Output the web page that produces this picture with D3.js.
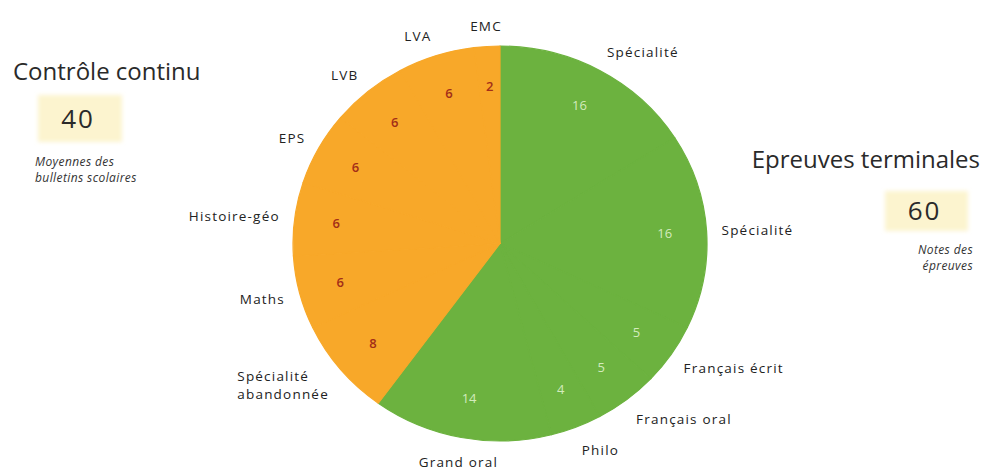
<!DOCTYPE html>
<html>
<head>
<meta charset="utf-8">
<script src="https://cdn.jsdelivr.net/npm/d3@7"></script>
<style>
  body { margin: 0; background: #fff; }
  svg { display: block; font-family: "Open Sans", sans-serif; }
</style>
</head>
<body>
<div id="chart"></div>
<script>
// subjects, clockwise from 12 o'clock
var subjects = ["Spécialité", "Spécialité", "Français écrit", "Français oral", "Philo", "Grand oral",
                "Spécialité abandonnée", "Maths", "Histoire-géo", "EPS", "LVB", "LVA", "EMC"];
var coefficients = [16, 16, 5, 5, 4, 14, 8, 6, 6, 6, 6, 6, 2];
var subjectGroup = [0, 0, 0, 0, 0, 0, 1, 1, 1, 1, 1, 1, 1];

var groupNames = ["Epreuves terminales", "Contrôle continu"];
var groupNotes = [["Notes des", "épreuves"], ["Moyennes des", "bulletins scolaires"]];

var width = 987, height = 471;
var cx = 500, cy = 243.5, radius = 207, ky = 0.954;
var fills = ["#6cb23f", "#f8a829"];
var valueColors = ["#d3ebbd", "#a32e18"];

var data = subjects.map(function(s, i) {
    return { name: s, value: coefficients[i], group: subjectGroup[i] };
});

var svg = d3.select("#chart").append("svg")
            .attr("width", width)
            .attr("height", height);

var pie = d3.pie().sort(null).value(function(d) { return d.value; });
var arcs = pie(data);

var arc = d3.arc().innerRadius(0).outerRadius(radius);
var valueArc = d3.arc().innerRadius(165).outerRadius(165);

var pieG = svg.append("g")
              .attr("transform", "translate(" + cx + "," + cy + ") scale(1," + ky + ")");

pieG.selectAll("path")
    .data(arcs)
    .enter().append("path")
    .attr("d", arc)
    .attr("fill", function(d) { return fills[d.data.group]; })
    .attr("stroke", function(d) { return fills[d.data.group]; })
    .attr("stroke-width", 1.2)
    .attr("stroke-linejoin", "round");

// values inside the slices
svg.selectAll(".val")
   .data(arcs)
   .enter().append("text")
   .attr("class", "val")
   .attr("x", function(d) { return cx + valueArc.centroid(d)[0]; })
   .attr("y", function(d) { return cy + valueArc.centroid(d)[1] * ky; })
   .attr("dy", "0.35em")
   .attr("text-anchor", "middle")
   .attr("font-size", 13)
   .attr("font-weight", function(d) { return d.data.group ? 600 : 400; })
   .attr("fill", function(d) { return valueColors[d.data.group]; })
   .text(function(d) { return d.data.value; });

// subject names around the pie
var labelR = 222;
arcs.forEach(function(d) {
    var a = (d.startAngle + d.endAngle) / 2;
    var s = Math.sin(a), c = Math.cos(a);
    var x = cx + s * labelR;
    var y = cy - c * labelR * ky - c * (c < 0 ? 11 : 6);
    var anchor = s > 0.25 ? "start" : (s < -0.25 ? "end" : "middle");
    var lines = d.data.name.length > 16 ? d.data.name.split(" ") : [d.data.name];

    var t = svg.append("text")
               .attr("font-size", 13.5)
               .attr("letter-spacing", 1.2)
               .attr("fill", "#222");
    lines.forEach(function(line, i) {
        t.append("tspan")
         .attr("x", x)
         .attr("y", y)
         .attr("dy", (0.35 + (i - (lines.length - 1) / 2) * 1.3) + "em")
         .text(line);
    });
    if (lines.length > 1 && anchor === "end") {
        // block aligned left, right edge on the anchor point
        var w = d3.max(t.selectAll("tspan").nodes(), function(n) { return n.getComputedTextLength(); });
        t.selectAll("tspan").attr("x", x - w);
        t.attr("text-anchor", "start");
    } else {
        t.attr("text-anchor", anchor);
    }
});

// group blocks
var totals = groupNames.map(function(g, i) {
    return d3.sum(data.filter(function(d) { return d.group === i; }), function(d) { return d.value; });
});

var blocks = [
    { title: [980, 168, "end"], box: [885, 191, 83, 40], note: [973, 254, "end"] },
    { title: [13, 80, "start"], box: [38, 95, 84, 47], note: [35, 166, "start"] }
];

var defs = svg.append("defs");
defs.append("filter").attr("id", "soft")
    .append("feGaussianBlur").attr("stdDeviation", 2);

blocks.forEach(function(b, i) {
    svg.append("text")
       .attr("x", b.title[0]).attr("y", b.title[1])
       .attr("text-anchor", b.title[2])
       .attr("font-size", 24)
       .attr("fill", "#2a2a2a")
       .text(groupNames[i]);

    svg.append("rect")
       .attr("x", b.box[0]).attr("y", b.box[1])
       .attr("width", b.box[2]).attr("height", b.box[3])
       .attr("fill", "#fcf4cf")
       .attr("filter", "url(#soft)");

    svg.append("text")
       .attr("x", b.box[0] + b.box[2] / 2 - 2).attr("y", b.box[1] + b.box[3] / 2)
       .attr("dy", "0.36em")
       .attr("text-anchor", "middle")
       .attr("font-size", 26)
       .attr("letter-spacing", 2)
       .attr("fill", "#2a2a2a")
       .text(totals[i]);

    var note = svg.append("text")
                  .attr("text-anchor", b.note[2])
                  .attr("font-size", 12)
                  .attr("letter-spacing", 0.4)
                  .attr("font-style", "italic")
                  .attr("fill", "#333");
    groupNotes[i].forEach(function(line, j) {
        note.append("tspan")
            .attr("x", b.note[0])
            .attr("y", b.note[1] + j * 16)
            .text(line);
    });
});
</script>
</body>
</html>
